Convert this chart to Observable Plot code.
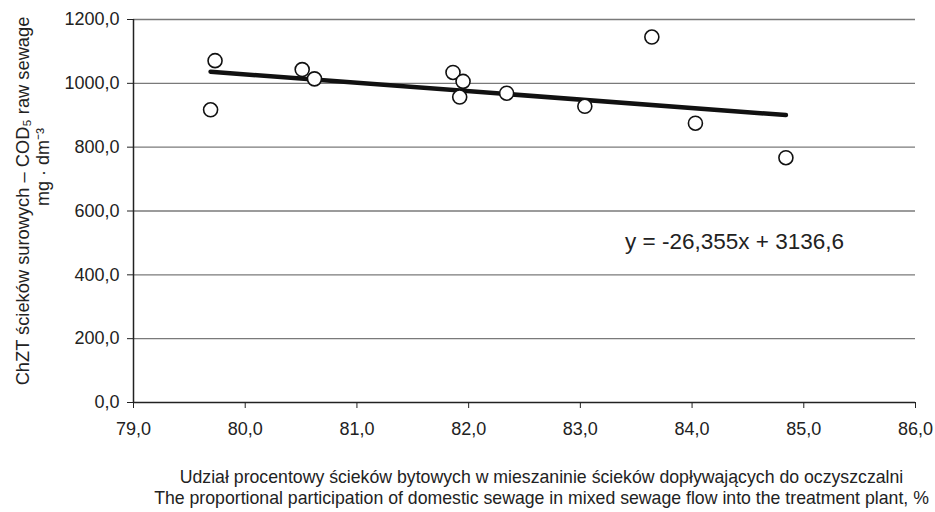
<!DOCTYPE html>
<html>
<head>
<meta charset="utf-8">
<script src="https://cdn.jsdelivr.net/npm/d3@7"></script>
<script src="https://cdn.jsdelivr.net/npm/@observablehq/plot@0.6"></script>
<style>
  html, body { margin: 0; padding: 0; background: #fff; }
  #chart svg { display: block; }
</style>
</head>
<body>
<div id="chart"></div>
<script>
// Share of domestic sewage in mixed inflow, %
const share = [79.73, 79.69, 80.51, 80.62, 81.86, 81.95, 81.92, 82.34, 83.04, 83.64, 84.03, 84.84];
// COD of raw sewage, mg·dm-3
const cod = [1071, 917, 1043, 1014, 1034, 1006, 957, 969, 928, 1145, 875, 767];
// Linear trend
const slope = -26.355;
const intercept = 3136.6;
const equationLabel = ["y = -26,355x + 3136,6"];
const xTicks = [79, 80, 81, 82, 83, 84, 85, 86];
const yTicks = [0, 200, 400, 600, 800, 1000, 1200];
const yTitle1 = ["ChZT ścieków surowych – COD₅ raw sewage"];
const yTitle2 = ["mg · dm⁻³"];
const xTitle1 = ["Udział procentowy ścieków bytowych w mieszaninie ścieków dopływających do oczyszczalni"];
const xTitle2 = ["The proportional participation of domestic sewage in mixed sewage flow into the treatment plant, %"];

const points = share.map((s, i) => ({x: s, y: cod[i]}));
const xExt = d3.extent(share);
const trend = xExt.map(x => ({x, y: slope * x + intercept}));
const fmt = d => d.toFixed(1).replace(".", ",");

const chart = Plot.plot({
  width: 935,
  height: 512,
  marginLeft: 133,
  marginRight: 20,
  marginTop: 19,
  marginBottom: 110,
  style: {fontFamily: "'Liberation Sans', Arial, sans-serif", background: "#fff", color: "#222"},
  x: {domain: [79, 86]},
  y: {domain: [0, 1200]},
  marks: [
    Plot.gridY(yTicks.filter(d => d > 0), {stroke: "#7a7a7a", strokeOpacity: 1, strokeWidth: 1.3}),
    Plot.axisY({ticks: yTicks, tickFormat: fmt, tickSize: 6, tickPadding: 8, fontSize: 18, label: null, stroke: "#222", color: "#222"}),
    Plot.axisX({ticks: xTicks, tickFormat: fmt, tickSize: 6, tickPadding: 14, fontSize: 18, label: null, stroke: "#222", color: "#222"}),
    Plot.ruleX([79], {stroke: "#222", strokeWidth: 1.5}),
    Plot.ruleY([0], {stroke: "#222", strokeWidth: 1.5}),
    Plot.line(trend, {x: "x", y: "y", stroke: "#111", strokeWidth: 4.5}),
    Plot.dot(points, {x: "x", y: "y", r: 7, stroke: "#111", strokeWidth: 1.6, fill: "#fff"}),
    Plot.text(equationLabel, {x: 83.4, y: 505, text: d => d, textAnchor: "start", fontSize: 22.5, fill: "#222"}),
    Plot.text(yTitle1, {frameAnchor: "left", textAnchor: "middle", text: d => d, rotate: -90, dx: -110, dy: -10, fontSize: 18.3, fill: "#222"}),
    Plot.text(yTitle2, {frameAnchor: "left", textAnchor: "middle", text: d => d, rotate: -90, dx: -90, dy: -44, fontSize: 18, fill: "#222"}),
    Plot.text(xTitle1, {frameAnchor: "bottom", text: d => d, dx: 17, dy: 80, fontSize: 17.7, fill: "#222"}),
    Plot.text(xTitle2, {frameAnchor: "bottom", text: d => d, dx: 17, dy: 101, fontSize: 17.7, fill: "#222"})
  ]
});
document.getElementById("chart").appendChild(chart);
</script>
</body>
</html>
